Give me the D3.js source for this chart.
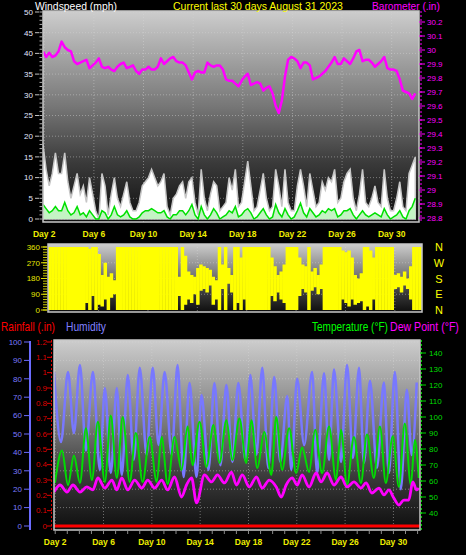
<!DOCTYPE html>
<html>
<head>
<meta charset="utf-8">
<script src="https://cdn.jsdelivr.net/npm/d3@7"></script>
<style>
html, body { margin: 0; padding: 0; background: #000; }
svg { display: block; font-family: "Liberation Sans", Arial, sans-serif; }
</style>
</head>
<body>
<div id="chart"></div>
<script>
// ---------------- data ----------------
var dayTicks = [2, 6, 10, 14, 18, 22, 26, 30];
var sampleStart = 1.9;   // day of first 6-hourly sample
var sampleStep = 0.25;   // 6 hours

// barometer (inHg), 6-hourly
var barometer = [29.99,29.95,29.98,29.95,29.96,29.99,30.06,30.02,30.00,29.99,
  29.92,29.90,29.91,29.92,29.93,29.87,29.89,29.91,29.94,29.88,
  29.87,29.88,29.86,29.85,29.88,29.90,29.91,29.87,29.88,29.89,
  29.85,29.83,29.86,29.86,29.88,29.86,29.86,29.88,29.94,29.90,
  29.92,29.94,29.95,29.92,29.91,29.91,29.89,29.84,29.79,29.84,
  29.85,29.84,29.84,29.91,29.89,29.88,29.89,29.89,29.86,29.79,
  29.78,29.78,29.76,29.74,29.78,29.81,29.83,29.75,29.76,29.77,
  29.76,29.71,29.73,29.74,29.69,29.60,29.55,29.64,29.81,29.93,
  29.95,29.94,29.92,29.87,29.91,29.91,29.89,29.79,29.80,29.81,
  29.83,29.85,29.88,29.91,29.95,29.90,29.90,29.94,29.92,29.90,
  29.94,29.99,30.00,29.92,29.93,29.93,29.91,29.88,29.90,29.92,
  29.95,29.87,29.86,29.86,29.85,29.79,29.71,29.70,29.69,29.65,
  29.69];

// wind gust (mph), 6-hourly
var windGust = [18,12,8,11,16,11,11,16,9,5,
  8,11,6,8,4,10,6,2,0,11,
  8,1,6,10,5,3,6,9,4,2,
  2,4,8,9,10,12,10,8,9,11,
  3,1,5,6,8,9,5,9,10,4,
  1,12,5,2,6,9,8,2,3,4,
  10,7,12,3,4,9,14,8,2,3,
  7,11,5,2,3,12,8,3,12,4,
  2,2,8,12,8,3,11,7,3,4,
  9,7,10,9,12,4,5,9,11,12,
  5,2,6,12,4,3,5,8,4,3,
  12,5,2,2,5,9,3,2,11,13,
  15];

// average wind speed (mph), 6-hourly
var windSpeed = [3.5,2.5,1.5,2,3,2,2,4,2,1,
  1.5,3,1,1.5,0.5,2,1,0,0,2,
  1.5,0,1,3,1,0.5,1,2,0.5,0,
  0,0.5,1.5,2,2,2.5,2,1.5,1.5,2,
  0.5,0,1,1,2,2,1,2,3.5,1,
  0,3,1,0,1,2.5,1.5,0,0.5,1,
  2,1.5,3,0.5,1,2,2.5,1.5,0,0.5,
  1.5,2.5,1,0,0.5,3.5,1.5,0.5,2.5,1,
  0,0.5,2,3.8,1.5,0.5,2.5,1.5,0.5,1,
  2,1.5,2.5,2,2.5,0.5,1,2,2,2.5,
  1,0,1,2,1,0.5,1,1.5,1,0.5,
  2.5,1,0,0.5,1,2,0.5,0,2,3,
  5];

// wind direction range (degrees) per 6-hour bin
var dirLow = [0,0,0,0,0,0,0,0,0,0,
  0,0,40,0,80,0,30,20,60,0,
  70,90,0,0,0,0,0,0,0,0,
  0,0,0,0,0,0,0,0,0,0,
  0,0,80,0,30,60,40,90,30,110,
  120,100,140,30,60,0,120,0,150,100,
  0,40,0,60,0,0,0,0,0,0,
  0,0,80,50,100,60,40,0,0,0,
  0,80,120,100,0,110,130,90,120,0,
  0,0,0,0,0,60,40,20,60,30,
  40,50,0,20,0,60,0,0,0,0,
  0,0,120,130,100,140,120,60,0,0,
  0];
var dirHigh = [360,360,360,360,360,360,360,360,360,360,
  360,360,360,350,360,360,320,200,270,190,
  210,170,360,360,360,360,360,360,360,360,
  360,360,360,360,360,360,360,360,360,360,
  360,360,190,360,310,220,200,190,240,260,
  250,240,230,190,170,360,260,360,240,200,
  360,360,300,360,360,360,360,360,360,360,
  360,360,300,250,200,220,260,360,360,360,
  360,300,260,250,360,220,240,200,260,360,
  360,360,360,360,360,340,330,340,300,200,
  180,210,360,360,340,300,360,360,360,360,
  360,360,200,210,190,220,180,250,360,360,
  360];

// temperature (°F): [day, value] at daily lows and highs
var temperature = [[1.98,58.8],[2.56,79],[3.06,57.5],[3.55,76],[4.05,58.8],[4.54,93],
  [5.04,60.6],[5.53,97],[6.11,59.4],[6.60,101],[7.10,61.9],[7.59,100],[8.17,59.4],[8.67,90],
  [9.24,59.4],[9.82,87.5],[10.40,59.4],[10.81,87.5],[11.31,58.1],[11.88,87.5],[12.46,66.9],
  [12.96,94],[13.37,70],[13.95,97],[14.52,68.8],[15.10,95],[15.60,71.3],[16.17,98],[16.67,73.1],
  [17.25,99],[17.82,71.3],[18.24,98],[18.73,68.1],[19.31,90.6],[19.89,63.8],[20.30,100],
  [20.79,66.9],[21.37,93],[21.95,65],[22.44,81],[23.02,65.6],[23.52,92],[24.09,65],[24.67,94],
  [25.25,60.6],[25.66,92],[26.16,57.5],[26.73,87.5],[27.31,58.8],[27.81,89],[28.38,61.9],
  [28.88,94],[29.37,58.8],[29.95,88],[30.45,56.3],[30.94,96],[31.44,57.5],[31.77,85.6],[32.10,61.9]];

// dew point (°F): [day, value]
var dewPoint = [[1.90,53.1],[2.40,57.5],[2.97,53.1],[3.47,57.5],[4.05,53.1],[4.62,56.3],
  [5.12,54.4],[5.53,61.9],[6.11,55.6],[6.69,60.6],[7.10,54.4],[7.51,61.9],[8.01,54.4],[8.58,60.6],
  [9.16,55.6],[9.66,60.6],[10.23,55.6],[10.81,60.6],[11.31,54.4],[11.88,62.5],[12.46,50],
  [12.87,57.5],[13.29,61.9],[13.70,46.3],[14.36,63.8],[14.94,59.4],[15.43,63.8],[16.01,58.8],
  [16.59,65.6],[17.00,57.5],[17.49,63.8],[18.07,56.3],[18.65,62.5],[19.14,55.6],[19.72,60.6],
  [20.30,56.3],[20.71,50],[21.12,57.5],[21.62,61.9],[22.03,57.5],[22.44,63.8],[23.02,56.3],
  [23.60,65],[24.01,59.4],[24.51,65],[25.08,57.5],[25.66,62.5],[26.16,56.3],[26.73,59.4],
  [27.31,55.6],[27.73,58.8],[28.22,52.5],[28.80,55.6],[29.21,51.3],[29.62,54.4],[30.03,49.4],
  [30.45,45],[30.86,48.1],[31.27,48.1],[31.60,59.4],[31.93,54.4],[32.10,55.6]];

// humidity (%): [day, value]
var humidity = [[1.90,83.7],[2.48,45.6],[3.06,83.7],[3.55,50.5],[4.05,87.5],[4.54,41],
  [5.12,83.7],[5.70,30.4],[6.11,75],[6.60,28.8],[7.10,75],[7.51,27.7],[8.01,82],[8.50,36],
  [9.00,86],[9.57,38.6],[10.07,86],[10.56,44],[11.06,83.7],[11.64,38.6],[12.13,87.5],[12.63,26.6],
  [13.12,77.7],[13.70,26.6],[14.11,71.2],[14.69,30.4],[15.18,77.7],[15.68,33],[16.17,76.6],
  [16.67,34.8],[17.16,77.7],[17.74,35.9],[18.15,82],[18.65,38.6],[19.14,86],[19.64,31.5],
  [20.13,81],[20.63,34.8],[21.21,70.6],[21.54,30.4],[22.03,80],[22.61,44],[23.27,83.7],
  [23.68,28.8],[24.26,83],[24.67,35.9],[25.08,85],[25.66,34.8],[26.16,87.5],[26.65,37],
  [27.15,86],[27.56,34.2],[28.06,79],[28.63,31.5],[29.21,78],[29.62,28.8],[30.12,83.7],
  [30.61,20],[31.11,74],[31.52,38.6],[31.93,78]];

// daily rainfall (in), no rain this month
var rainStart = 1.9;
var rainfall = [0,0,0,0,0,0,0,0,0,0,0,0,0,0,0,0,0,0,0,0,0,0,0,0,0,0,0,0,0,0,0,0];

// tick labels
var windTicks = [0,5,10,15,20,25,30,35,40,45,50];
var baroTicks = [28.8,28.9,29,29.1,29.2,29.3,29.4,29.5,29.6,29.7,29.8,29.9,30,30.1,30.2];
var dirTicks = [0,90,180,270,360];
var dirNames = ["N","E","S","W","N"];
var humTicks = [0,10,20,30,40,50,60,70,80,90,100];
var rainTicks = [0,0.1,0.2,0.3,0.4,0.5,0.6,0.7,0.8,0.9,1,1.1,1.2];
var tempTicks = [40,50,60,70,80,90,100,110,120,130,140];

// ---------------- layout ----------------
var width = 466, height = 555;
var svg = d3.select("#chart").append("svg")
  .attr("width", width).attr("height", height)
  .style("background", "#000");
var defs = svg.append("defs");

var xTop = d3.scaleLinear().domain([1.9, 32.2]).range([43, 419]);
var xMid = d3.scaleLinear().domain([1.9, 32.2]).range([48, 422]);
var xBot = d3.scaleLinear().domain([1.9, 32.2]).range([54, 420]);

var yWind = d3.scaleLinear().domain([0, 50]).range([219, 12]);
var yBaro = d3.scaleLinear().domain([28.8, 30.2]).range([218, 22]);
var yDir = d3.scaleLinear().domain([0, 360]).range([310, 247]);
var yHum = d3.scaleLinear().domain([0, 100]).range([526, 342]);
var yRain = d3.scaleLinear().domain([0, 1.2]).range([526, 342]);
var yTemp = d3.scaleLinear().domain([40, 140]).range([513, 353]);

function sampleDay(i) { return sampleStart + i * sampleStep; }

//-------------------------PANELS-------------------------\\
function makePanel(id, x0, x1, y0, y1) {
  var gr = defs.append("linearGradient").attr("id", id + "-bg")
    .attr("gradientUnits", "userSpaceOnUse")
    .attr("x1", 0).attr("x2", 0).attr("y1", y0).attr("y2", y1);
  gr.append("stop").attr("offset", "0%").attr("stop-color", "#cdcdcd");
  gr.append("stop").attr("offset", "45%").attr("stop-color", "#777");
  gr.append("stop").attr("offset", "72%").attr("stop-color", "#3a3a3a");
  gr.append("stop").attr("offset", "100%").attr("stop-color", "#0e0e0e");
  defs.append("clipPath").attr("id", id + "-clip")
    .append("rect").attr("x", x0).attr("y", y0).attr("width", x1 - x0).attr("height", y1 - y0);
  svg.append("rect").attr("x", x0).attr("y", y0).attr("width", x1 - x0).attr("height", y1 - y0)
    .attr("fill", "url(#" + id + "-bg)");
  return svg.append("g").attr("clip-path", "url(#" + id + "-clip)");
}

function frame(x0, x1, y0, y1) {
  svg.append("rect").attr("x", x0).attr("y", y0).attr("width", x1 - x0).attr("height", y1 - y0)
    .attr("fill", "none").attr("stroke", "#c8c8c8").attr("stroke-width", 1.5);
}

function grid(g, xs, x, ys, y, x0, x1, y0, y1) {
  g.selectAll(".vgrid").data(xs).join("line")
    .attr("x1", d => x(d)).attr("x2", d => x(d)).attr("y1", y0).attr("y2", y1)
    .attr("stroke", "#d8d8d8").attr("stroke-opacity", 0.45).attr("stroke-dasharray", "1,2");
  g.selectAll(".hgrid").data(ys).join("line")
    .attr("x1", x0).attr("x2", x1).attr("y1", d => y(d)).attr("y2", d => y(d))
    .attr("stroke", "#d8d8d8").attr("stroke-opacity", 0.45).attr("stroke-dasharray", "1,2");
}

function labels(vals, x, y, anchor, color, fmt) {
  svg.append("g").selectAll("text").data(vals).join("text")
    .attr("x", x).attr("y", d => y(d)).attr("dy", "0.35em")
    .attr("text-anchor", anchor)
    .style("font-size", "8px").style("fill", color)
    .text(fmt || (d => d));
}

function ticks(vals, y, xa, xb, color, w) {
  svg.append("g").selectAll("line").data(vals).join("line")
    .attr("x1", xa).attr("x2", xb).attr("y1", d => y(d)).attr("y2", d => y(d))
    .attr("stroke", color).attr("stroke-width", w || 1);
}

function dayLabels(x, yPos) {
  svg.append("g").selectAll("text").data(dayTicks).join("text")
    .attr("x", d => x(d)).attr("y", yPos).attr("text-anchor", "middle")
    .style("font-size", "8.5px").style("font-weight", "bold").style("fill", "#eeee00")
    .text(d => "Day " + d);
}

// narrow bitmap-like captions: shrink the font to the wanted width, stretch it back up
function title(txt, x, y, len, color, size) {
  var t = svg.append("text").style("font-size", size + "px").style("fill", color).text(txt);
  var natural = t.node().getComputedTextLength();
  var fs = size * len / natural;
  t.style("font-size", fs + "px")
    .attr("transform", "translate(" + x + "," + y + ") scale(1," + (size / fs) + ")");
}

//-------------------------TOP: WIND SPEED + BAROMETER-------------------------\\
var gTop = makePanel("top", 43, 419, 11, 222);
grid(gTop, dayTicks, xTop, windTicks, yWind, 43, 419, 11, 222);

gTop.append("path").datum(windGust)
  .attr("d", d3.area().x((d, i) => xTop(sampleDay(i))).y0(yWind(0)).y1(d => yWind(d)))
  .attr("fill", "#fff").attr("stroke", "#c6c6c6").attr("stroke-width", 1.5);

gTop.append("path").datum(windSpeed)
  .attr("d", d3.area().x((d, i) => xTop(sampleDay(i))).y0(yWind(0)).y1(d => yWind(d)))
  .attr("fill", "#c4f3c4");
gTop.append("path").datum(windSpeed)
  .attr("d", d3.line().x((d, i) => xTop(sampleDay(i))).y(d => yWind(d)))
  .attr("fill", "none").attr("stroke", "#00e000").attr("stroke-width", 1.5);

gTop.append("path").datum(barometer)
  .attr("d", d3.line().x((d, i) => xTop(sampleDay(i))).y(d => yBaro(d)))
  .attr("fill", "none").attr("stroke", "#ff00ff").attr("stroke-width", 2.5)
  .attr("stroke-linejoin", "round");

frame(43, 419, 11, 222);

// left wind axis
var windMinor = d3.range(0, 51, 1);
ticks(windMinor, yWind, 39.5, 42.5, "#b0b0b0");
ticks(windTicks, yWind, 35, 39, "#c0c0c0");
labels(windTicks, 33, yWind, "end", "#e2e6ff");

// right barometer axis
svg.append("line").attr("x1", 421).attr("x2", 421).attr("y1", 11).attr("y2", 222)
  .attr("stroke", "#ff00ff").attr("stroke-dasharray", "2,2");
ticks(baroTicks, yBaro, 419, 425, "#ff00ff");
labels(baroTicks, 427, yBaro, "start", "#ff00ff", d => d3.format("")(+d.toFixed(1)));

dayLabels(xTop, 237);

title("Windspeed (mph)", 35, 9.5, 82, "#ffffff", 11);
title("Current last 30 days August 31 2023", 173, 9.5, 170, "#ffff00", 11);
title("Barometer (.in)", 372, 9.5, 68, "#ff00ff", 11);

//-------------------------MIDDLE: WIND DIRECTION-------------------------\\
var gMid = makePanel("mid", 48, 422, 244, 312);
grid(gMid, dayTicks, xMid, [90, 180, 270], yDir, 48, 422, 244, 312);

var binW = xMid(sampleDay(1)) - xMid(sampleDay(0));
gMid.selectAll(".dir").data(dirHigh).join("rect")
  .attr("x", (d, i) => xMid(sampleDay(i)))
  .attr("width", binW + 0.4)
  .attr("y", d => yDir(d))
  .attr("height", (d, i) => yDir(dirLow[i]) - yDir(d))
  .attr("fill", "#ffff00");

frame(48, 422, 244, 312);
ticks(d3.range(0, 361, 15), yDir, 43, 47, "#c8c800");
ticks(dirTicks, yDir, 41, 47, "#e0e000");
labels(dirTicks, 40, yDir, "end", "#e6e600");

svg.append("g").selectAll("text").data(dirTicks).join("text")
  .attr("x", 439).attr("y", d => yDir(d) + 4).attr("text-anchor", "middle")
  .style("font-size", "11px").style("fill", "#ffff00")
  .text((d, i) => dirNames[i]);

//-------------------------BOTTOM: TEMPERATURE / HUMIDITY / RAIN-------------------------\\
var gBot = makePanel("bot", 54, 420, 340, 530);
grid(gBot, dayTicks, xBot, humTicks, yHum, 54, 420, 340, 530);

gBot.append("path").datum(humidity)
  .attr("d", d3.line().x(d => xBot(d[0])).y(d => yHum(d[1])).curve(d3.curveMonotoneX))
  .attr("fill", "none").attr("stroke", "#7878ff").attr("stroke-width", 2.5);

gBot.append("path").datum(temperature)
  .attr("d", d3.line().x(d => xBot(d[0])).y(d => yTemp(d[1])).curve(d3.curveMonotoneX))
  .attr("fill", "none").attr("stroke", "#00dd00").attr("stroke-width", 2);

gBot.append("path").datum(dewPoint)
  .attr("d", d3.line().x(d => xBot(d[0])).y(d => yTemp(d[1])).curve(d3.curveMonotoneX))
  .attr("fill", "none").attr("stroke", "#ff00ff").attr("stroke-width", 2.8);

gBot.append("path").datum(rainfall)
  .attr("d", d3.line().x((d, i) => xBot(rainStart + i)).y(d => yRain(d)))
  .attr("fill", "none").attr("stroke", "#ff0000").attr("stroke-width", 3);

frame(54, 420, 340, 530);

// day ticks under the bottom panel
svg.append("g").selectAll("line").data(d3.range(2, 33, 1)).join("line")
  .attr("x1", d => xBot(d)).attr("x2", d => xBot(d)).attr("y1", 531).attr("y2", 534)
  .attr("stroke", "#8a8a8a");
dayLabels(xBot, 545);

// humidity axis (far left)
svg.append("line").attr("x1", 30).attr("x2", 30).attr("y1", 341).attr("y2", 530)
  .attr("stroke", "#6c6cff").attr("stroke-width", 2);
ticks(humTicks, yHum, 24, 30, "#6c6cff");
labels(humTicks, 22, yHum, "end", "#7b7bff");

// rain axis
defs.append("clipPath").attr("id", "rainlab-clip")
  .append("rect").attr("x", 0).attr("y", 339).attr("width", 60).attr("height", 200);
svg.append("line").attr("x1", 51.5).attr("x2", 51.5).attr("y1", 340).attr("y2", 530)
  .attr("stroke", "#e00000").attr("stroke-dasharray", "2,2");
ticks(rainTicks, yRain, 47, 52, "#e00000");
svg.append("g").attr("clip-path", "url(#rainlab-clip)").selectAll("text").data(rainTicks).join("text")
  .attr("x", 47).attr("y", d => yRain(d)).attr("dy", "0.35em").attr("text-anchor", "end")
  .style("font-size", "8px").style("fill", "#dd0000")
  .text(d => +d.toFixed(1));

// temperature axis (right)
svg.append("line").attr("x1", 421.5).attr("x2", 421.5).attr("y1", 340).attr("y2", 530)
  .attr("stroke", "#00d000").attr("stroke-dasharray", "2,2");
ticks(tempTicks, yTemp, 420, 426, "#00d000");
labels(tempTicks, 429, yTemp, "start", "#00dd00");

// legend texts
title("Rainfall (.in)", 1, 331, 54, "#ff0000", 12);
title("Humidity", 66, 331, 40, "#8080ff", 12);
title("Temperature (\u00B0F)", 312, 331, 76, "#00ff00", 12);
title("Dew Point (\u00B0F)", 390, 331, 69, "#ff00ff", 12);
</script>
</body>
</html>
